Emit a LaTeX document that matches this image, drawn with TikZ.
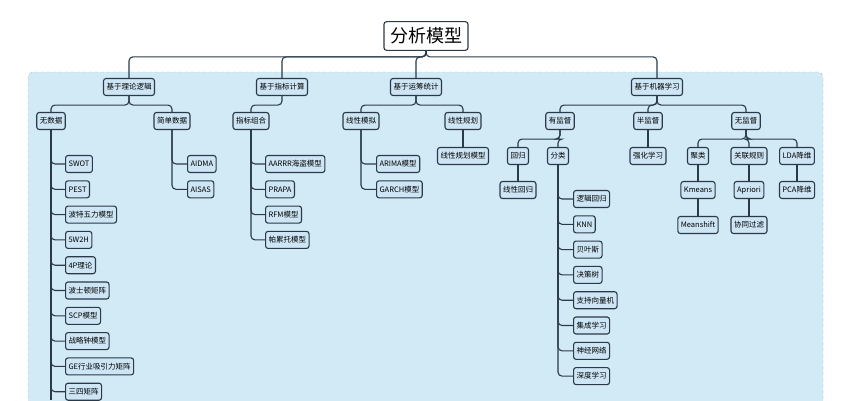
\documentclass[tikz,border=0pt]{standalone}
\usepackage{fontspec}
\setmainfont{Noto Sans CJK SC}
\begin{document}
\begin{tikzpicture}[x=1pt,y=-1pt,
  box/.style={draw=edge,line width=1.1pt,rounded corners=2.5pt,fill=nodefill,font=\fontsize{7.5}{8}\selectfont,inner sep=3pt,minimum height=17pt},
  link/.style={draw=edge,line width=1.1pt,rounded corners=4pt}]
\definecolor{edge}{HTML}{2B3A48}
\definecolor{nodefill}{HTML}{CDE5F4}
\definecolor{bgfill}{HTML}{D2E9F6}
\definecolor{bgline}{HTML}{8CC4E6}
\useasboundingbox (0,0) rectangle (857,400);
\fill[white] (0,0) rectangle (857,400);
\draw[bgline,dashed,fill=bgfill,rounded corners=5pt] (28,72) rectangle (823,410);
\node[box,font=\fontsize{18}{20}\selectfont,inner sep=6pt,fill=white] (root) at (426,36) {分析模型};
\node[box] (a) at (129,87) {基于理论逻辑};
\node[box] (b) at (282,87) {基于指标计算};
\node[box] (c) at (416,87) {基于运筹统计};
\node[box] (d) at (657,87) {基于机器学习};
\foreach \n in {a,b,c,d} \draw[link] (root.south) -- ++(0,6) -| (\n.north);
\node[box] (a1) at (51,121) {无数据};
\node[box] (a2) at (172,121) {简单数据};
\node[box] (b1) at (251,121) {指标组合};
\node[box] (c1) at (361,121) {线性模拟};
\node[box] (c2) at (463,121) {线性规划};
\node[box] (d1) at (560,121) {有监督};
\node[box] (d2) at (648,121) {半监督};
\node[box] (d3) at (746,121) {无监督};
\foreach \p/\n in {a/a1,a/a2,b/b1,c/c1,c/c2,d/d1,d/d2,d/d3} \draw[link] (\p.south) -- ++(0,9) -| (\n.north);
% leaves
\foreach \t [count=\i] in {SWOT,PEST,波特五力模型,5W2H,4P理论,波士顿矩阵,SCP模型,战略钟模型,GE行业吸引力矩阵,三四矩阵}
  {\node[box,anchor=west] (a1\i) at (65,{164+25.3*(\i-1)}) {\t}; \draw[link] (a1.south) |- (a1\i.west);}
\foreach \t [count=\i] in {AIDMA,AISAS}
  {\node[box,anchor=west] (a2\i) at (187,{164+25.3*(\i-1)}) {\t}; \draw[link] (a2.south) |- (a2\i.west);}
\foreach \t [count=\i] in {AARRR海盗模型,PRAPA,RFM模型,帕累托模型}
  {\node[box,anchor=west] (b1\i) at (265,{164+25.3*(\i-1)}) {\t}; \draw[link] (b1.south) |- (b1\i.west);}
\foreach \t [count=\i] in {ARIMA模型,GARCH模型}
  {\node[box,anchor=west] (c1\i) at (376,{164+25.3*(\i-1)}) {\t}; \draw[link] (c1.south) |- (c1\i.west);}
\node[box] (c21) at (463,156) {线性规划模型};
\draw[link] (c2) -- (c21);
\node[box] (e1) at (518,156) {回归};
\node[box] (e2) at (558,156) {分类};
\foreach \n in {e1,e2} \draw[link] (d1.south) -- ++(0,9) -| (\n.north);
\node[box] (e11) at (518,190) {线性回归};
\draw[link] (e1) -- (e11);
\foreach \t [count=\i] in {逻辑回归,KNN,贝叶斯,决策树,支持向量机,集成学习,神经网络,深度学习}
  {\node[box,anchor=west] (e2\i) at (573,{199+25.3*(\i-1)}) {\t}; \draw[link] (e2.south) |- (e2\i.west);}
\node[box] (f1) at (648,156) {强化学习};
\draw[link] (d2) -- (f1);
\node[box] (g1) at (698,156) {聚类};
\node[box] (g2) at (749,156) {关联规则};
\node[box] (g3) at (797,156) {LDA降维};
\foreach \n in {g1,g2,g3} \draw[link] (d3.south) -- ++(0,9) -| (\n.north);
\node[box] (g11) at (698,190) {Kmeans};
\node[box] (g12) at (698,225) {Meanshift};
\node[box] (g21) at (749,190) {Apriori};
\node[box] (g22) at (749,225) {协同过滤};
\node[box] (g31) at (797,190) {PCA降维};
\draw[link] (g1) -- (g11); \draw[link] (g11) -- (g12);
\draw[link] (g2) -- (g21); \draw[link] (g21) -- (g22);
\draw[link] (g3) -- (g31);
\draw[link] (a1.south) -- (51,400);
\end{tikzpicture}
\end{document}
